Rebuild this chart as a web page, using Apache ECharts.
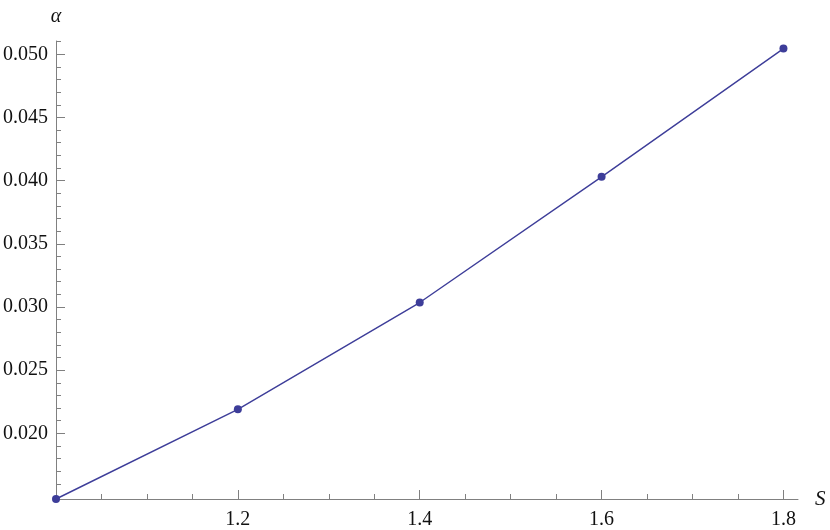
<!DOCTYPE html>
<html><head><meta charset="utf-8">
<script src="https://cdn.jsdelivr.net/npm/echarts@6/dist/echarts.min.js"></script>
<style>html,body{margin:0;padding:0;background:#fff}#c{width:830px;height:530px}</style>
</head><body><div id="c"></div>
<script>
const sValues = [1.0, 1.2, 1.4, 1.6, 1.8];
const alphaValues = [0.0148, 0.0219, 0.03035, 0.0403, 0.05045];
const xMajorTicks = [1.2, 1.4, 1.6, 1.8];
const xMinorTicks = [1.05, 1.1, 1.15, 1.25, 1.3, 1.35, 1.45, 1.5, 1.55, 1.65, 1.7, 1.75];
const yMajorTicks = [0.020, 0.025, 0.030, 0.035, 0.040, 0.045, 0.050];
const yMinorTicks = [0.016, 0.017, 0.018, 0.019, 0.021, 0.022, 0.023, 0.024, 0.026, 0.027, 0.028, 0.029,
  0.031, 0.032, 0.033, 0.034, 0.036, 0.037, 0.038, 0.039, 0.041, 0.042, 0.043, 0.044,
  0.046, 0.047, 0.048, 0.049, 0.051];

const axisGray = '#808080';
const font = "'Liberation Serif', 'DejaVu Serif', 'Times New Roman', serif";
const chart = echarts.init(document.getElementById('c'));
const xMin = 1.0, xMax = 1.816, yMin = 0.0148, yMax = 0.05105;

chart.setOption({
  animation: false,
  grid: {left: 53, right: 32, top: 41, bottom: 31, containLabel: false},
  xAxis: [{
    type: 'value', min: xMin, max: xMax, position: 'bottom',
    name: 'S', nameLocation: 'end', nameGap: 17,
    nameTextStyle: {fontFamily: font, fontStyle: 'italic', fontSize: 21, color: '#111', verticalAlign: 'middle', align: 'left'},
    axisLine: {show: true, onZero: false, lineStyle: {color: axisGray, width: 1}},
    axisTick: {show: true, inside: true, length: 9, customValues: xMajorTicks, lineStyle: {color: axisGray}},
    axisLabel: {show: true, customValues: xMajorTicks, margin: 11, fontFamily: font, fontSize: 20, color: '#111',
      formatter: v => v.toFixed(1)},
    splitLine: {show: false}
  }, {
    type: 'value', min: xMin, max: xMax, position: 'bottom',
    axisLine: {show: false, onZero: false},
    axisTick: {show: true, inside: true, length: 5, customValues: xMinorTicks, lineStyle: {color: axisGray}},
    axisLabel: {show: false},
    splitLine: {show: false}
  }],
  yAxis: [{
    type: 'value', min: yMin, max: yMax, position: 'left',
    name: 'α', nameLocation: 'end', nameGap: 14,
    nameTextStyle: {fontFamily: font, fontStyle: 'italic', fontSize: 20, color: '#111', align: 'center', verticalAlign: 'bottom'},
    axisLine: {show: true, onZero: false, lineStyle: {color: axisGray, width: 1}},
    axisTick: {show: true, inside: true, length: 9, customValues: yMajorTicks, lineStyle: {color: axisGray}},
    axisLabel: {show: true, customValues: yMajorTicks, margin: 8, fontFamily: font, fontSize: 20, color: '#111',
      formatter: v => v.toFixed(3)},
    splitLine: {show: false}
  }, {
    type: 'value', min: yMin, max: yMax, position: 'left',
    axisLine: {show: false, onZero: false},
    axisTick: {show: true, inside: true, length: 5, customValues: yMinorTicks, lineStyle: {color: axisGray}},
    axisLabel: {show: false},
    splitLine: {show: false}
  }],
  series: [{
    type: 'line', xAxisIndex: 0, yAxisIndex: 0,
    data: sValues.map((s, i) => [s, alphaValues[i]]),
    symbol: 'circle', symbolSize: 8, showSymbol: true, clip: false,
    itemStyle: {color: '#3d3d99'},
    lineStyle: {color: '#3d3d99', width: 1.4},
    z: 5
  }]
});
</script></body></html>
